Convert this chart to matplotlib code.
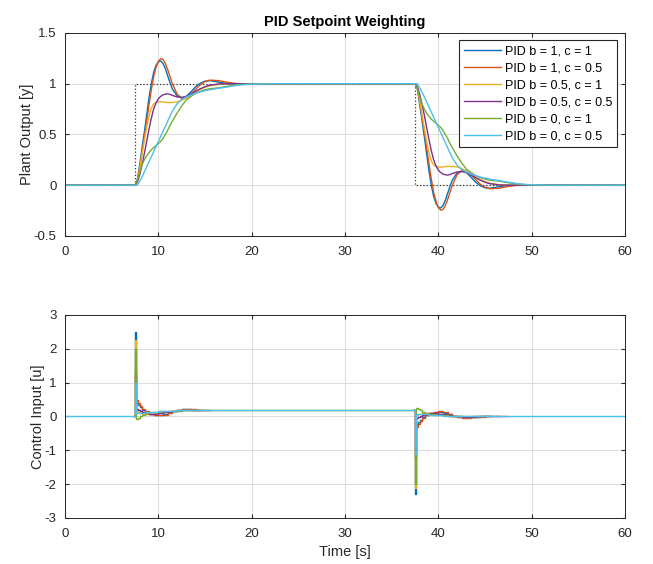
import numpy as np
import matplotlib
matplotlib.use("Agg")
import matplotlib.pyplot as plt

plt.rcParams['font.family'] = ['Liberation Sans', 'DejaVu Sans']
plt.rcParams['axes.unicode_minus'] = False

labels = ["PID b = 1, c = 1", "PID b = 1, c = 0.5", "PID b = 0.5, c = 1",
          "PID b = 0.5, c = 0.5", "PID b = 0, c = 1", "PID b = 0, c = 0.5"]
colors = ["#0072BD", "#D95319", "#EDB120", "#7E2F8E", "#77AC30", "#4DBEEE"]

t_up, t_down, t_end = 7.5, 37.5, 60.0

# setpoint
r_t = [0, 7.5, 7.5, 37.5, 37.5, 60]
r_v = [0, 0, 1, 1, 0, 0]

# plant output, time since the setpoint step
tr = [0, 0.25, 0.5, 0.75, 1.0, 1.25, 1.5, 1.75, 2.0, 2.25, 2.5, 2.75, 3.0, 3.25, 3.5,
      3.75, 4.0, 4.5, 5.0, 5.5, 6.0, 6.5, 7.0, 7.5, 8.0, 9.0, 10.0, 11.0, 12.0, 14.0, 16.0]

y_up = [
    [0, 0.05, 0.2, 0.36, 0.52, 0.69, 0.86, 1.0, 1.11, 1.18, 1.215, 1.225, 1.2, 1.15, 1.08,
     1.01, 0.95, 0.88, 0.86, 0.875, 0.92, 0.97, 1.005, 1.025, 1.03, 1.015, 1.0, 0.996, 0.998, 1.0, 1.0],
    [0, 0.04, 0.17, 0.32, 0.47, 0.63, 0.79, 0.94, 1.07, 1.16, 1.22, 1.245, 1.24, 1.2, 1.14,
     1.07, 1.0, 0.9, 0.855, 0.86, 0.895, 0.945, 0.99, 1.02, 1.035, 1.03, 1.012, 1.0, 0.997, 1.0, 1.0],
    [0, 0.04, 0.16, 0.3, 0.44, 0.57, 0.68, 0.76, 0.8, 0.815, 0.82, 0.822, 0.82, 0.817, 0.815,
     0.814, 0.815, 0.82, 0.835, 0.86, 0.89, 0.92, 0.945, 0.965, 0.98, 0.995, 1.0, 1.0, 1.0, 1.0, 1.0],
    [0, 0.03, 0.1, 0.2, 0.31, 0.43, 0.55, 0.66, 0.75, 0.81, 0.85, 0.875, 0.89, 0.897, 0.9,
     0.895, 0.885, 0.87, 0.865, 0.875, 0.9, 0.925, 0.95, 0.97, 0.985, 0.997, 1.0, 1.0, 1.0, 1.0, 1.0],
    [0, 0.05, 0.13, 0.2, 0.25, 0.29, 0.32, 0.35, 0.37, 0.39, 0.41, 0.43, 0.46, 0.5, 0.54,
     0.59, 0.63, 0.71, 0.78, 0.84, 0.875, 0.905, 0.925, 0.94, 0.95, 0.96, 0.975, 0.99, 0.996, 1.0, 1.0],
    [0, 0.0, 0.04, 0.08, 0.13, 0.18, 0.23, 0.28, 0.33, 0.38, 0.43, 0.48, 0.53, 0.58, 0.63,
     0.68, 0.73, 0.8, 0.845, 0.87, 0.89, 0.905, 0.92, 0.93, 0.94, 0.955, 0.97, 0.985, 0.993, 1.0, 1.0],
]

y_down = [
    [1, 0.95, 0.8, 0.64, 0.48, 0.31, 0.14, 0.0, -0.11, -0.18, -0.215, -0.225, -0.2, -0.15, -0.08,
     -0.01, 0.05, 0.12, 0.14, 0.125, 0.08, 0.03, -0.005, -0.025, -0.03, -0.015, 0.0, 0.004, 0.002, 0.0, 0.0],
    [1, 0.96, 0.83, 0.68, 0.53, 0.37, 0.21, 0.06, -0.07, -0.16, -0.22, -0.245, -0.24, -0.2, -0.14,
     -0.07, 0.0, 0.1, 0.145, 0.14, 0.105, 0.055, 0.01, -0.02, -0.035, -0.03, -0.012, 0.0, 0.003, 0.0, 0.0],
    [1, 0.96, 0.84, 0.7, 0.56, 0.43, 0.32, 0.24, 0.2, 0.185, 0.18, 0.178, 0.18, 0.183, 0.185,
     0.186, 0.185, 0.18, 0.165, 0.14, 0.11, 0.08, 0.055, 0.035, 0.02, 0.005, 0.0, 0.0, 0.0, 0.0, 0.0],
    [1, 0.97, 0.9, 0.8, 0.69, 0.57, 0.45, 0.34, 0.25, 0.19, 0.15, 0.125, 0.11, 0.103, 0.1,
     0.105, 0.115, 0.13, 0.135, 0.125, 0.1, 0.075, 0.05, 0.03, 0.015, 0.003, 0.0, 0.0, 0.0, 0.0, 0.0],
    [1, 0.95, 0.87, 0.8, 0.75, 0.71, 0.68, 0.65, 0.63, 0.61, 0.59, 0.57, 0.54, 0.5, 0.46,
     0.41, 0.37, 0.29, 0.22, 0.16, 0.125, 0.095, 0.075, 0.06, 0.05, 0.04, 0.025, 0.01, 0.004, 0.0, 0.0],
    [1, 1.0, 0.96, 0.92, 0.87, 0.82, 0.77, 0.72, 0.67, 0.62, 0.57, 0.52, 0.47, 0.42, 0.37,
     0.32, 0.27, 0.2, 0.155, 0.13, 0.11, 0.095, 0.08, 0.07, 0.06, 0.045, 0.03, 0.015, 0.007, 0.0, 0.0],
]

# control input (stairs), time since the setpoint step
ur = [-0.1, 0.0, 0.1, 0.3, 0.5, 0.8, 1.1, 1.5, 2.0, 2.5, 3.0, 3.5, 4.0, 4.5, 5.0,
      5.5, 6.0, 6.5, 7.0, 7.5, 8.0, 9.0, 10.0, 11.0, 12.0]
nan = np.nan

u_up = [
    [0, 2.5, 0.4, 0.33, 0.27, 0.2, 0.13, 0.07, 0.04, 0.04, 0.07, 0.12, 0.17, 0.2, 0.21,
     0.21, 0.2, 0.19, 0.185, nan, nan, nan, nan, nan, nan],
    [0, 1.5, 0.48, 0.4, 0.32, 0.23, 0.15, 0.08, 0.04, 0.03, 0.05, 0.1, 0.16, 0.2, 0.22,
     0.22, 0.21, 0.2, nan, nan, nan, nan, nan, nan, nan],
    [0, 2.25, 0.15, 0.12, 0.1, 0.08, 0.07, 0.08, 0.1, 0.12, 0.14, 0.16, 0.17, 0.18, 0.19,
     0.19, 0.185, nan, nan, nan, nan, nan, nan, nan, nan],
    [0, 1.25, 0.22, 0.19, 0.16, 0.13, 0.1, 0.08, 0.08, 0.1, 0.12, 0.14, 0.16, 0.18, 0.19,
     0.195, 0.19, 0.19, 0.185, 0.185, nan, nan, nan, nan, nan],
    [0, 2.0, -0.08, -0.04, 0.0, 0.05, 0.09, 0.12, 0.14, 0.15, 0.15, 0.16, 0.17, 0.17, 0.18,
     0.18, 0.18, 0.18, 0.185, 0.185, 0.185, 0.185, 0.185, 0.185, 0.185],
    [0, 1.0, 0.1, 0.1, 0.1, 0.11, 0.12, 0.13, 0.14, 0.15, 0.16, 0.17, 0.17, 0.18, 0.18,
     0.185, 0.185, 0.185, 0.185, 0.185, 0.185, 0.185, 0.185, 0.185, 0.185],
]

u_down = [
    [0.185, -2.3, -0.22, -0.15, -0.09, -0.02, 0.05, 0.11, 0.14, 0.14, 0.11, 0.06, 0.01, -0.02, -0.03,
     -0.03, -0.02, -0.01, 0.0, 0.0, 0.0, nan, nan, nan, nan],
    [0.185, -1.3, -0.3, -0.22, -0.14, -0.05, 0.03, 0.1, 0.14, 0.15, 0.13, 0.08, 0.02, -0.02, -0.035,
     -0.035, -0.025, -0.015, -0.01, 0.0, 0.0, 0.0, nan, nan, nan],
    [0.185, -2.1, 0.03, 0.06, 0.08, 0.1, 0.11, 0.1, 0.08, 0.06, 0.04, 0.02, 0.01, 0.0, -0.005,
     -0.005, 0.0, nan, nan, nan, nan, nan, nan, nan, nan],
    [0.185, -1.0, -0.04, -0.01, 0.02, 0.05, 0.08, 0.1, 0.1, 0.08, 0.06, 0.04, 0.02, 0.005, -0.005,
     -0.01, -0.005, 0.0, 0.0, 0.0, nan, nan, nan, nan, nan],
    [0.185, -2.0, 0.26, 0.23, 0.18, 0.13, 0.09, 0.06, 0.04, 0.03, 0.03, 0.02, 0.01, 0.01, 0.0,
     0.0, 0.0, 0.0, 0.0, 0.0, nan, nan, nan, nan, nan],
    [0.185, -1.1, 0.08, 0.08, 0.08, 0.07, 0.06, 0.05, 0.04, 0.03, 0.02, 0.01, 0.01, 0.0, 0.0,
     0.0, 0.0, 0.0, 0.0, 0.0, 0.0, 0.0, 0.0, 0.0, 0.0],
]

fig = plt.figure(figsize=(6.53, 5.64), dpi=100)
ax1 = fig.add_axes([0.0995, 0.5816, 0.8576, 0.36])
ax2 = fig.add_axes([0.0995, 0.0816, 0.8576, 0.36])

ax1.plot(r_t, r_v, color="#333333", linestyle=":", lw=0.9)
for i in range(6):
    t = np.concatenate([[0], t_up + np.array(tr), t_down + np.array(tr), [t_end]])
    y = np.concatenate([[0], y_up[i], y_down[i], [0]])
    ax1.plot(t, y, color=colors[i], lw=1.0, label=labels[i])

for i in range(6):
    t = np.concatenate([t_up + np.array(ur), t_down + np.array(ur)])
    u = np.concatenate([u_up[i], u_down[i]])
    if i == 5:
        t = np.concatenate([[0], t, [t_end]])
        u = np.concatenate([[0], u, [0]])
    ax2.plot(t, u, color=colors[i], lw=1.0, drawstyle="steps-post")

for ax in (ax1, ax2):
    ax.set_xlim(0, 60)
    ax.set_xticks(range(0, 61, 10))
    ax.grid(True, color="#dcdcdc", lw=0.7)
    ax.set_axisbelow(True)
    ax.tick_params(direction="in", length=3, labelsize=9.5, color="#262626",
                   top=True, right=True, labelcolor="#262626")
    ax.tick_params(axis="x", pad=7)
    ax.tick_params(axis="y", pad=6)
    for s in ax.spines.values():
        s.set_color("#262626")
        s.set_linewidth(0.7)

ax1.set_ylim(-0.5, 1.5)
ax1.set_yticks([-0.5, 0, 0.5, 1, 1.5])
ax1.set_yticklabels(["-0.5", "0", "0.5", "1", "1.5"])
ax1.set_ylabel("Plant Output [y]", fontsize=10.5, color="#262626", labelpad=0)
ax1.set_title("PID Setpoint Weighting", fontsize=10.5, fontweight="bold", pad=5)
ax1.legend(loc="upper right", fontsize=9, handlelength=3.0, fancybox=False,
           edgecolor="#262626", framealpha=1, borderaxespad=0.6, labelspacing=0.4,
           handletextpad=0.3, borderpad=0.4).get_frame().set_linewidth(0.8)

ax2.set_ylim(-3, 3)
ax2.set_yticks(range(-3, 4))
ax2.set_ylabel("Control Input [u]", fontsize=10.5, color="#262626", labelpad=0)
ax2.set_xlabel("Time [s]", fontsize=10.5, color="#262626")

fig.savefig("out.png", dpi=100)
